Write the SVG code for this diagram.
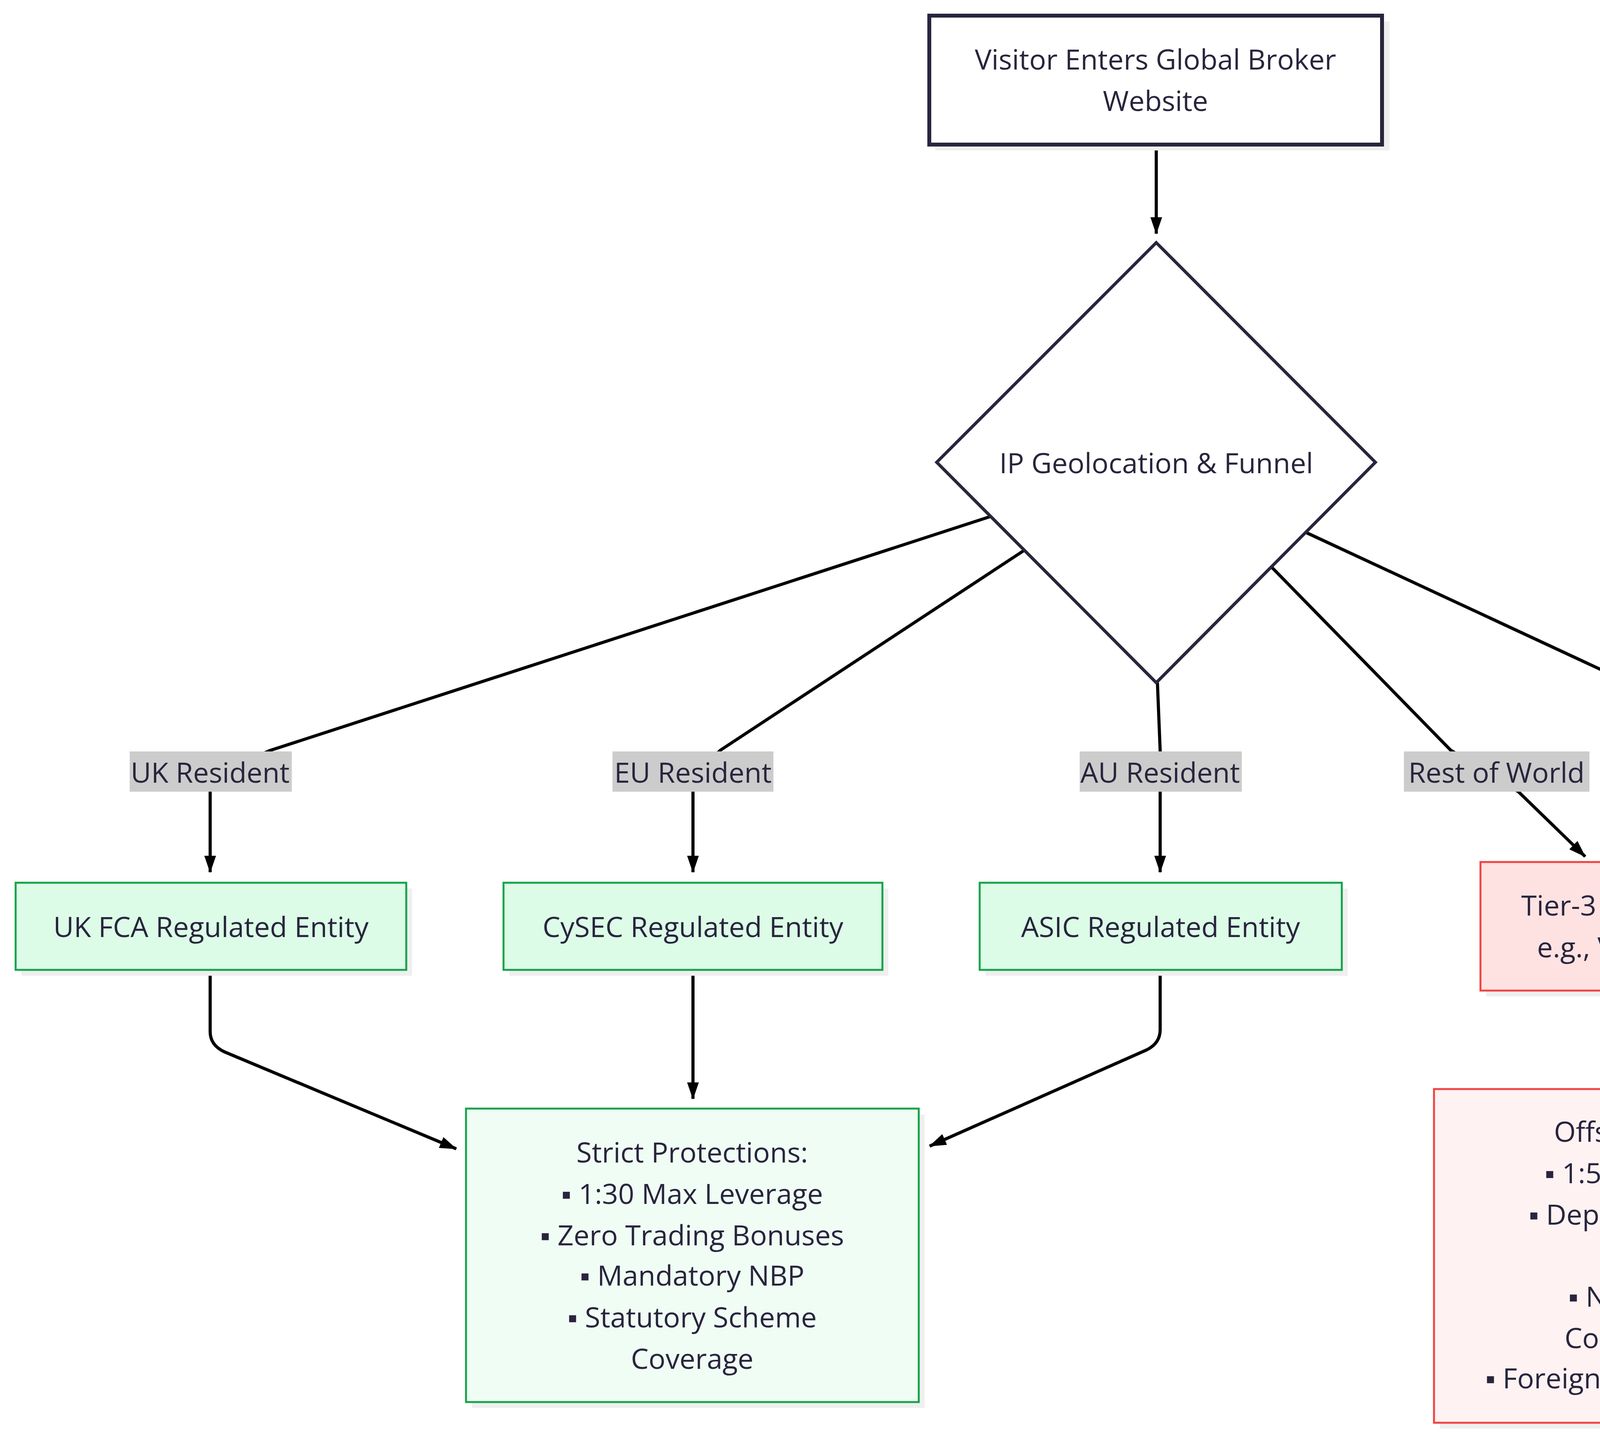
<svg xmlns="http://www.w3.org/2000/svg" width="5209" height="3680" viewBox="0 0 5209 3680">
<style>
text{font-family:"Open Sans","Liberation Sans",sans-serif;font-size:72px;fill:#28253d;text-anchor:middle;dominant-baseline:central}
.sh{fill:#efefef}
.g{fill:#dcfce7;stroke:#16a34a;stroke-width:5}
.gs{fill:#f0fdf4;stroke:#16a34a;stroke-width:5}
.r{fill:#fee2e2;stroke:#ef4444;stroke-width:5}
.rs{fill:#fef2f2;stroke:#ef4444;stroke-width:5}
.e{fill:none;stroke:#000;stroke-width:8;marker-end:url(#a)}
.lb{fill:#cccccc}
</style>
<defs><marker id="a" markerUnits="userSpaceOnUse" markerWidth="44" markerHeight="30" refX="42" refY="15" orient="auto"><path d="M0,0 L44,15 L0,30 z" fill="#000"/></marker></defs>
<rect width="5209" height="3680" fill="#fff"/>
<g id="connectors">
<path class="e" d="M2960,370 L2960,598"/>
<path class="e" d="M2535,1322 L690,1921 L538,1990 L538,2232"/>
<path class="e" d="M2621,1409 L1844,1920 L1774,1990 L1774,2232"/>
<path class="e" d="M2963,1747 L2970,1920 L2970,2232"/>
<path class="e" d="M3256,1452 L3714,1920 L3887,2026 L4058,2192"/>
<path class="e" d="M3342,1362 L4435,1870 L4561,2080 L4451,2190"/>
<path class="e" d="M538,2482 L538,2640 Q538,2675 575,2692 L1168,2940"/>
<path class="e" d="M1774,2482 L1774,2812"/>
<path class="e" d="M2970,2482 L2970,2635 Q2970,2670 2935,2687 L2380,2933"/>
<path class="e" d="M4249,2535 L4249,2762"/>
<rect class="lb" x="332" y="1923" width="415" height="103"/><text x="538" y="1975">UK Resident</text>
<rect class="lb" x="1568" y="1923" width="412" height="103"/><text x="1774" y="1975">EU Resident</text>
<rect class="lb" x="2764" y="1923" width="415" height="103"/><text x="2970" y="1975">AU Resident</text>
<rect class="lb" x="3594" y="1923" width="475" height="103"/><text x="3831" y="1975">Rest of World</text>
<rect class="lb" x="4169" y="1870" width="1000" height="210"/><text x="4669" y="1922">UK/EU/AU Selecting 'Bonus'</text><text x="4669" y="2028">/ High Leverage</text>
</g>
<g id="start"><rect class="sh" x="2394" y="55" width="1163" height="330"/><rect x="2379" y="40" width="1159" height="330" fill="#fff" stroke="#28253d" stroke-width="10"/><text x="2958" y="150">Visitor Enters Global Broker</text><text x="2958" y="256">Website</text></g>
<g id="geo"><polygon points="2960,621 3521,1183 2960,1747 2398,1183" fill="#fff" stroke="#28253d" stroke-width="8"/><text x="2960" y="1183">IP Geolocation &amp; Funnel</text></g>
<g id="uk"><rect class="sh" x="55" y="2274" width="1000" height="223"/><rect class="g" x="40" y="2259" width="1000" height="223"/><text x="540" y="2370">UK FCA Regulated Entity</text></g>
<g id="cy"><rect class="sh" x="1304" y="2274" width="970" height="223"/><rect class="g" x="1289" y="2259" width="970" height="223"/><text x="1774" y="2370">CySEC Regulated Entity</text></g>
<g id="asic"><rect class="sh" x="2523" y="2274" width="927" height="223"/><rect class="g" x="2508" y="2259" width="927" height="223"/><text x="2971" y="2370">ASIC Regulated Entity</text></g>
<g id="tier3"><rect class="sh" x="3805" y="2221" width="924" height="329"/><rect class="r" x="3790" y="2206" width="924" height="329"/><text x="4252" y="2315">Tier-3 Offshore Entity</text><text x="4252" y="2422">e.g., Vanuatu / SVG</text></g>
<g id="strict"><rect class="sh" x="1208" y="2852" width="1159" height="751"/><rect class="gs" x="1193" y="2837" width="1159" height="751"/><text x="1772" y="2947">Strict Protections:</text><text x="1772" y="3053">▪ 1:30 Max Leverage</text><text x="1772" y="3159">▪ Zero Trading Bonuses</text><text x="1772" y="3262">▪ Mandatory NBP</text><text x="1772" y="3369">▪ Statutory Scheme</text><text x="1772" y="3475">Coverage</text></g>
<g id="offshore"><rect class="sh" x="3686" y="2802" width="1159" height="854"/><rect class="rs" x="3671" y="2787" width="1159" height="854"/><text x="4250" y="2894">Offshore Terms:</text><text x="4250" y="3000">▪ 1:500+ Leverage</text><text x="4250" y="3106">▪ Deposit / Turnover</text><text x="4250" y="3209">Bonuses</text><text x="4250" y="3316">▪ No Statutory</text><text x="4250" y="3422">Compensation</text><text x="4250" y="3525">▪ Foreign Court Jurisdiction</text></g>
</svg>
